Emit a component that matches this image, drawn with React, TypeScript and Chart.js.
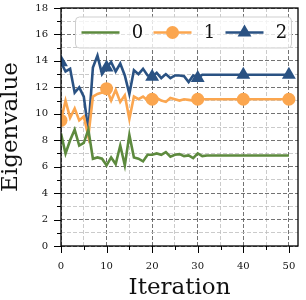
import React, { useEffect, useRef } from 'react';
import { Chart, registerables } from 'chart.js';
import { drawPoint } from 'chart.js/helpers';

Chart.register(...registerables);

const iterations = [
  0, 1, 2, 3, 4, 5, 6, 7, 8, 9,
  10, 11, 12, 13, 14, 15, 16, 17, 18, 19,
  20, 21, 22, 23, 24, 25, 26, 27, 28, 29,
  30, 31, 32, 33, 34, 35, 36, 37, 38, 39,
  40, 41, 42, 43, 44, 45, 46, 47, 48, 49, 50,
];

const series0 = [
  8.5, 7.0, 8.0, 8.8, 7.6, 7.8, 8.8, 6.6, 6.7, 6.6,
  6.1, 6.7, 6.2, 7.6, 6.1, 8.4, 6.7, 6.6, 6.4, 6.9,
  6.9, 7.0, 6.9, 7.1, 6.75, 6.9, 6.95, 6.8, 6.85, 6.65,
  7.0, 6.8, 6.85, 6.85, 6.85, 6.85, 6.85, 6.85, 6.85, 6.85,
  6.85, 6.85, 6.85, 6.85, 6.85, 6.85, 6.85, 6.85, 6.85, 6.85, 6.85,
];

const series1 = [
  9.5, 11.0, 9.7, 10.4, 9.5, 9.8, 8.3, 11.3, 11.5, 11.6,
  11.9, 11.0, 11.8, 10.9, 11.4, 9.6, 11.3, 11.1, 11.3, 11.0,
  11.1, 11.2, 11.0, 10.9, 11.2, 11.1, 11.0, 11.1, 11.05, 11.0,
  11.1, 11.1, 11.1, 11.1, 11.1, 11.1, 11.1, 11.1, 11.1, 11.1,
  11.1, 11.1, 11.1, 11.1, 11.1, 11.1, 11.1, 11.1, 11.1, 11.1, 11.1,
];

const series2 = [
  13.9, 13.2, 13.4, 11.6, 12.0, 11.3, 8.7, 13.5, 14.4, 13.0,
  13.5, 13.9, 13.2, 13.8, 12.9, 11.5, 13.3, 13.0, 13.4, 12.9,
  12.8, 13.1, 12.7, 13.0, 12.7, 12.9, 12.9, 12.85, 12.4, 12.9,
  12.7, 12.95, 12.95, 12.95, 12.95, 12.95, 12.95, 12.95, 12.95, 12.95,
  12.95, 12.95, 12.95, 12.95, 12.95, 12.95, 12.95, 12.95, 12.95, 12.95, 12.95,
];

const seriesLabels = ['0', '1', '2'];
const seriesColors = ['#5d8a3e', '#fba64f', '#2a5283'];
const seriesMarkers = ['none', 'circle', 'triangle'];
const yTickValues = [0, 2, 4, 6, 8, 10, 12, 14, 16, 18];
const xTickValues = [0, 10, 20, 30, 40, 50];
const xGridValues = [0, 5, 10, 15, 20, 25, 30, 35, 40, 45, 50];

const FONT = "'DejaVu Serif', serif";

const markerRadius = (style: string) => (style === 'triangle' ? 8 : 6.5);
const isMajorY = (v: number) => yTickValues.includes(Math.round(v * 1000) / 1000);
const isMajorX = (v: number) => xTickValues.includes(Math.round(v * 1000) / 1000);

const decorPlugin = {
  id: 'decor',
  afterDatasetsDraw(chart: any) {
    const { ctx, chartArea: a, scales } = chart;
    ctx.save();
    ctx.strokeStyle = '#000';
    ctx.lineWidth = 1;
    scales.y.ticks.forEach((t: any) => {
      const y = Math.round(scales.y.getPixelForValue(t.value)) + 0.5;
      const len = isMajorY(t.value) ? 7 : 4;
      ctx.beginPath();
      ctx.moveTo(a.left, y);
      ctx.lineTo(a.left - len, y);
      ctx.stroke();
    });
    scales.x.ticks.forEach((t: any) => {
      const x = Math.round(scales.x.getPixelForValue(t.value)) + 0.5;
      const len = isMajorX(t.value) ? 7 : 4;
      ctx.beginPath();
      ctx.moveTo(x, a.bottom);
      ctx.lineTo(x, a.bottom + len);
      ctx.stroke();
    });
    ctx.lineWidth = 1.3;
    ctx.strokeRect(a.left, a.top, a.right - a.left, a.bottom - a.top);
    ctx.restore();
  },
  afterDraw(chart: any) {
    const { ctx, chartArea: a } = chart;
    ctx.save();
    const bx = a.left + 14.5;
    const by = a.top + 9;
    const bw = a.right - 6.5 - bx;
    const bh = 31;
    ctx.beginPath();
    ctx.roundRect(bx, by, bw, bh, 4);
    ctx.fillStyle = 'rgba(255,255,255,0.8)';
    ctx.fill();
    ctx.strokeStyle = '#cfcfcf';
    ctx.lineWidth = 1;
    ctx.stroke();
    const cy = by + bh / 2;
    const itemW = 72;
    chart.data.datasets.forEach((ds: any, i: number) => {
      const x0 = bx + 6 + i * itemW;
      const x1 = x0 + 38;
      ctx.strokeStyle = ds.borderColor;
      ctx.lineWidth = 2.6;
      ctx.beginPath();
      ctx.moveTo(x0, cy);
      ctx.lineTo(x1, cy);
      ctx.stroke();
      const style = seriesMarkers[i];
      if (style !== 'none') {
        ctx.fillStyle = ds.borderColor;
        ctx.strokeStyle = ds.borderColor;
        drawPoint(ctx, { pointStyle: style, radius: markerRadius(style), rotation: 0, borderWidth: 0 }, (x0 + x1) / 2, cy);
      }
      ctx.fillStyle = '#111';
      ctx.font = `18px ${FONT}`;
      ctx.textAlign = 'center';
      ctx.textBaseline = 'middle';
      ctx.fillText(ds.label, x1 + 18, cy + 1);
    });
    ctx.restore();
  },
};

export default function App() {
  const canvasRef = useRef<HTMLCanvasElement | null>(null);

  useEffect(() => {
    const canvas = canvasRef.current;
    if (!canvas) return;
    const allSeries = [series0, series1, series2];
    const chart = new Chart(canvas, {
      type: 'line',
      data: {
        datasets: allSeries.map((s, k) => ({
          label: seriesLabels[k],
          data: iterations.map((x, i) => ({ x, y: s[i] })),
          borderColor: seriesColors[k],
          backgroundColor: seriesColors[k],
          borderWidth: 2.6,
          tension: 0,
          clip: 0,
          pointStyle: seriesMarkers[k] === 'none' ? 'circle' : seriesMarkers[k],
          pointRadius: (c: any) =>
            seriesMarkers[k] !== 'none' && c.dataIndex % 10 === 0 ? markerRadius(seriesMarkers[k]) : 0,
          pointBorderWidth: 0,
          pointBackgroundColor: seriesColors[k],
          pointBorderColor: seriesColors[k],
          pointHoverRadius: 0,
        })),
      },
      options: {
        animation: false,
        responsive: false,
        devicePixelRatio: 1,
        events: [],
        layout: { padding: { left: 0, right: 5, top: 5, bottom: 0 } },
        plugins: { legend: { display: false }, tooltip: { enabled: false } },
        scales: {
          x: {
            type: 'linear',
            min: 0,
            max: 52,
            afterBuildTicks: (scale: any) => {
              scale.ticks = xGridValues.map((v) => ({ value: v }));
            },
            afterFit: (scale: any) => {
              scale.height = 54;
              scale.paddingLeft = 0;
              scale.paddingRight = 0;
            },
            ticks: {
              autoSkip: false,
              maxRotation: 0,
              padding: 14,
              color: '#111',
              font: { family: FONT, size: 10 },
              callback: (v: any) => (isMajorX(v) ? String(v) : ''),
            },
            grid: {
              drawTicks: false,
              color: (c: any) =>
                c.tick && isMajorX(c.tick.value) ? 'rgba(90,90,90,0.85)' : 'rgba(190,190,190,0.8)',
              lineWidth: 1,
            },
            border: { display: false, dash: [4, 2] },
            title: {
              display: true,
              text: 'Iteration',
              color: '#111',
              font: { family: FONT, size: 23, lineHeight: 1 },
              padding: 0,
            },
          },
          y: {
            type: 'linear',
            min: 0,
            max: 18,
            afterFit: (scale: any) => {
              scale.width = 61;
              scale.paddingTop = 0;
              scale.paddingBottom = 0;
            },
            ticks: {
              stepSize: 1,
              autoSkip: false,
              padding: 13,
              color: '#111',
              font: { family: FONT, size: 10 },
              callback: (v: any) => (isMajorY(v) ? String(v) : ''),
            },
            grid: {
              drawTicks: false,
              color: (c: any) =>
                c.tick && isMajorY(c.tick.value) ? 'rgba(90,90,90,0.85)' : 'rgba(190,190,190,0.8)',
              lineWidth: 1,
            },
            border: { display: false, dash: [4, 2] },
            title: {
              display: true,
              text: 'Eigenvalue',
              color: '#111',
              font: { family: FONT, size: 23, lineHeight: 1 },
              padding: 0,
            },
          },
        },
      },
      plugins: [decorPlugin],
    });
    return () => chart.destroy();
  }, []);

  return (
    <div style={{ position: 'absolute', left: 0, top: 0, width: 306, height: 300, background: '#fff' }}>
      <canvas ref={canvasRef} width={306} height={300} style={{ display: 'block' }} />
    </div>
  );
}
